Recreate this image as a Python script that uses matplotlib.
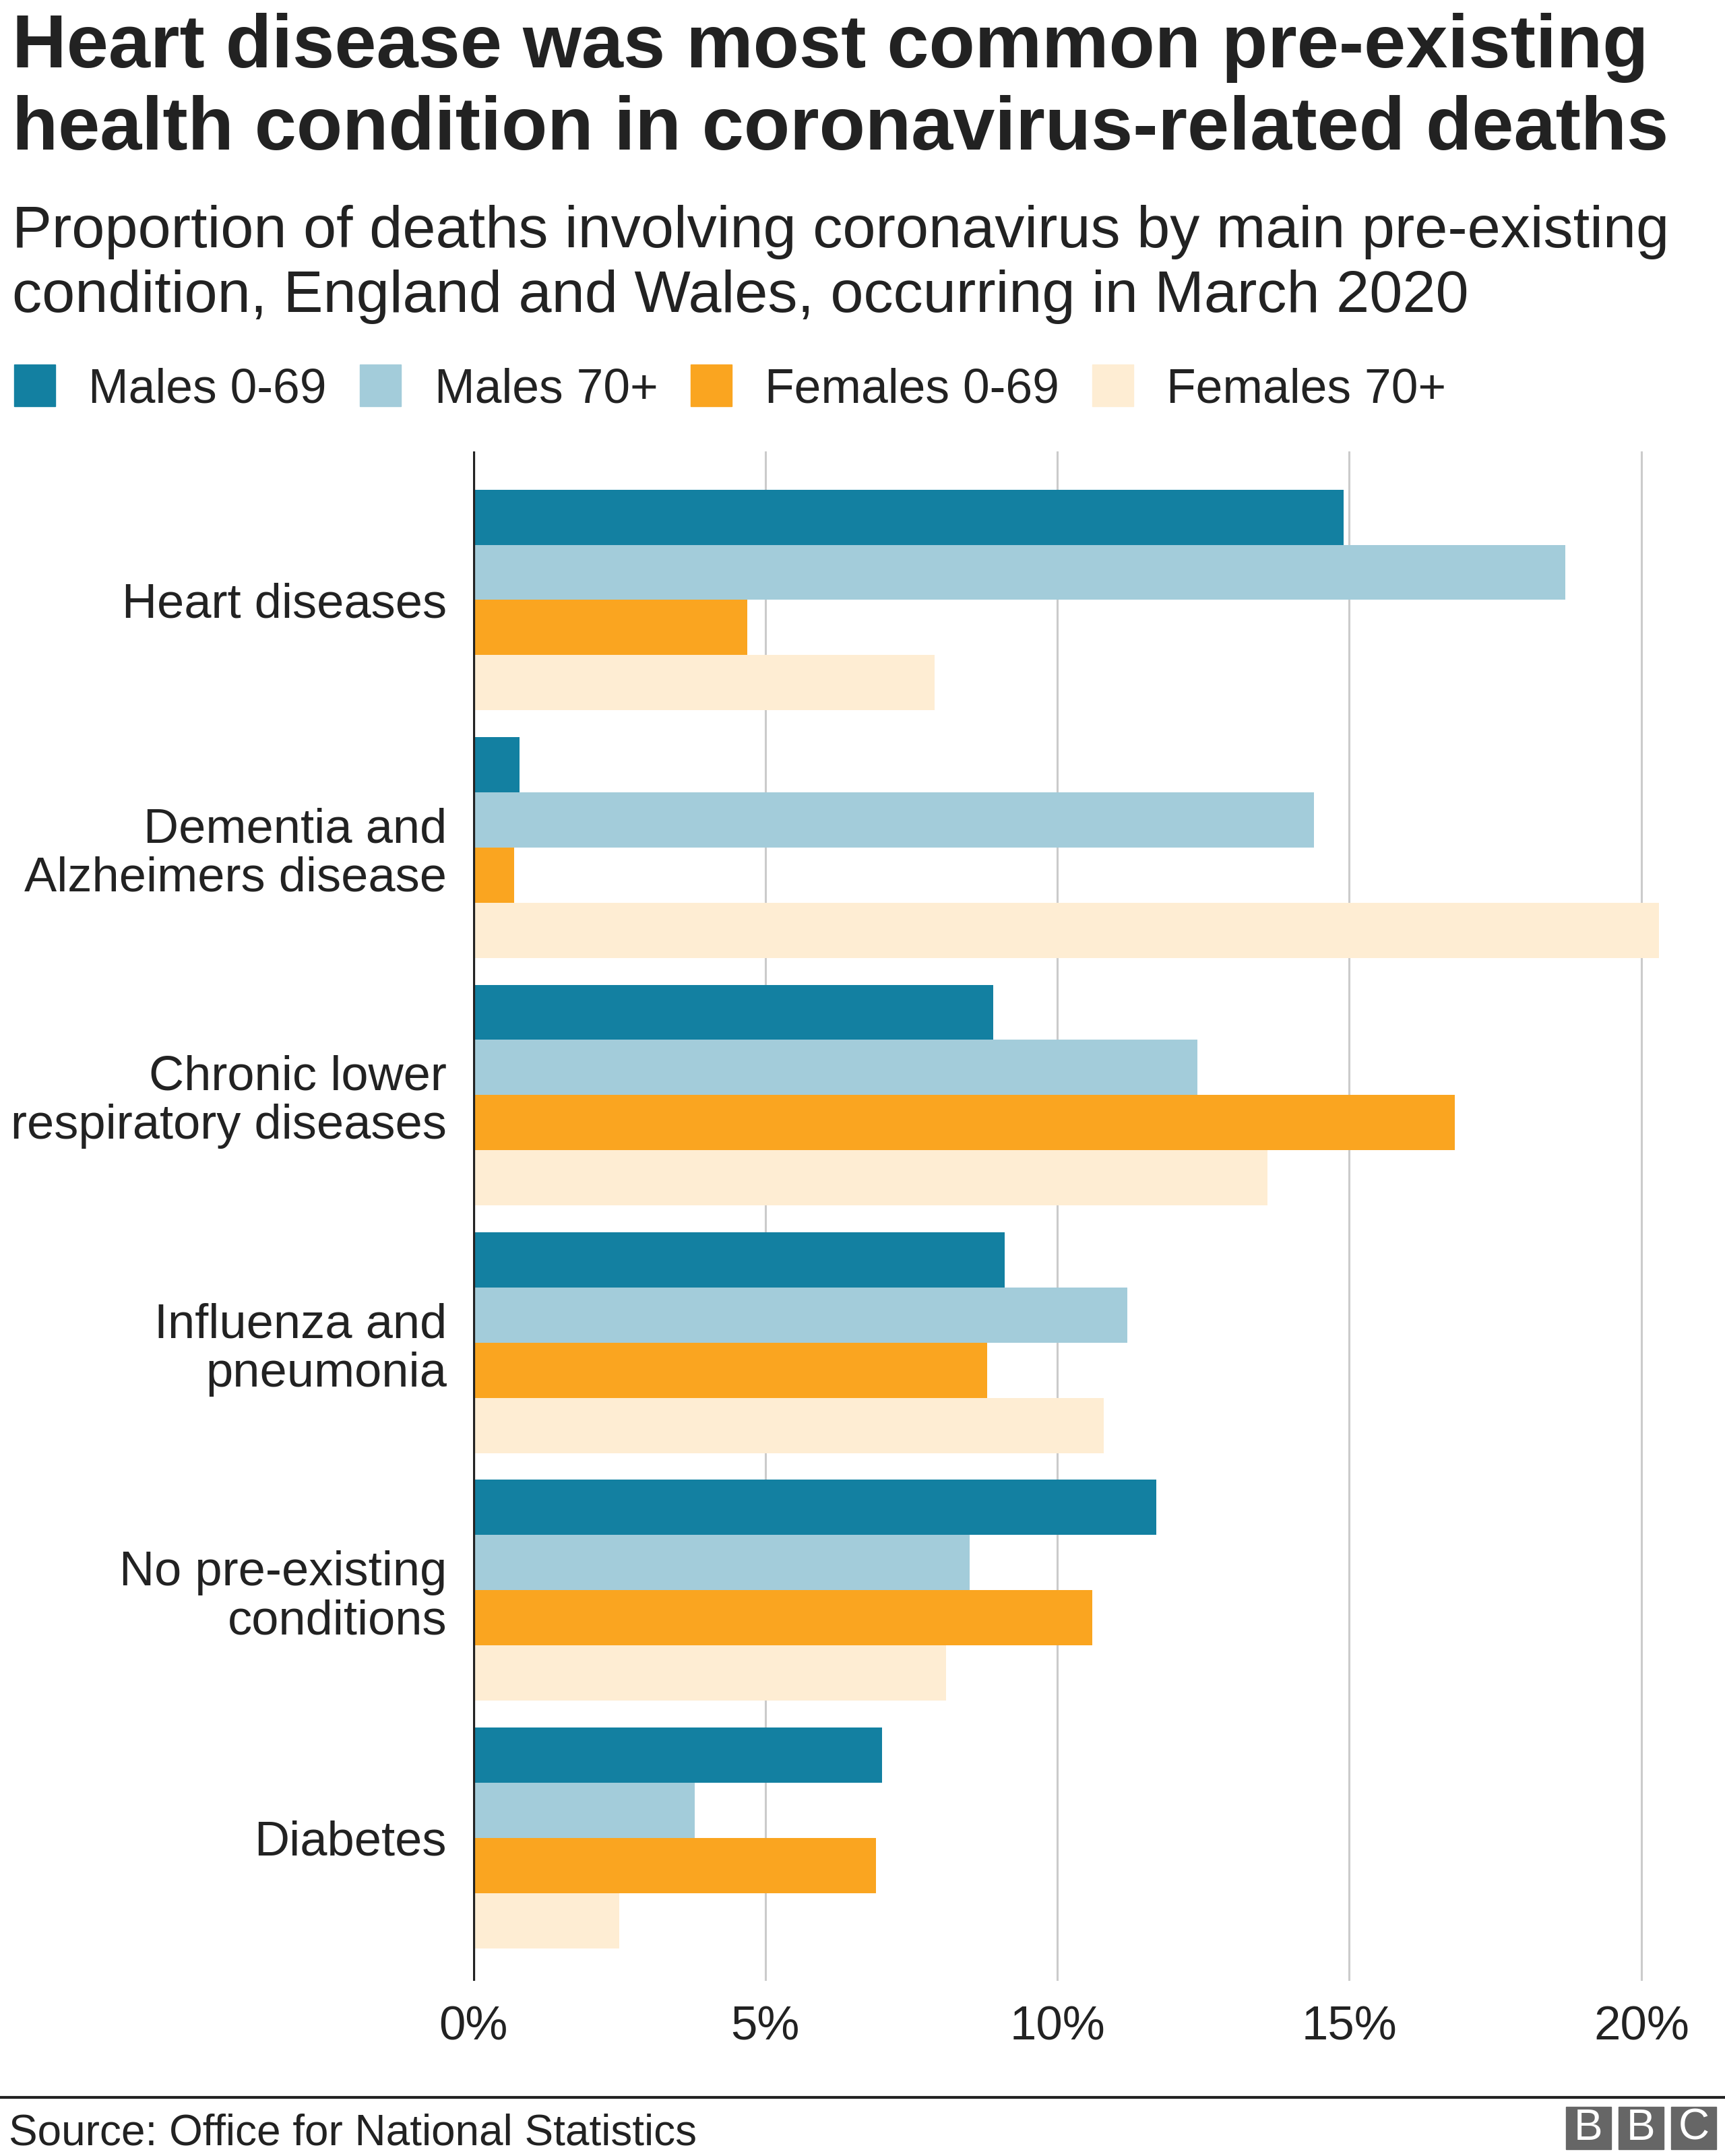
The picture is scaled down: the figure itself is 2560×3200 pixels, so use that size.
import matplotlib
matplotlib.use("Agg")
import matplotlib.pyplot as plt
from matplotlib.patches import Rectangle
import numpy as np

plt.rcParams["font.family"] = ["Liberation Sans", "DejaVu Sans"]

# data (percent of deaths)
conditions = [
    "Heart diseases",
    "Dementia and\nAlzheimers disease",
    "Chronic lower\nrespiratory diseases",
    "Influenza and\npneumonia",
    "No pre-existing\nconditions",
    "Diabetes",
]
groups = ["Males 0-69", "Males 70+", "Females 0-69", "Females 70+"]
males_0_69 = [14.9, 0.8, 8.9, 9.1, 11.7, 7.0]
males_70 = [18.7, 14.4, 12.4, 11.2, 8.5, 3.8]
females_0_69 = [4.7, 0.7, 16.8, 8.8, 10.6, 6.9]
females_70 = [7.9, 20.3, 13.6, 10.8, 8.1, 2.5]
colors = ["#1380a1", "#a3ccda", "#faa520", "#feedd3"]
xticks = [0, 5, 10, 15, 20]

W, H = 2560, 3200
fig = plt.figure(figsize=(W / 100, H / 100), dpi=100)

# axes placed in pixel terms
left, right, top, bottom = 702, 2480, 670, 2940
ax = fig.add_axes([left / W, 1 - bottom / H, (right - left) / W, (bottom - top) / H])

h = 0.2231
y = np.arange(len(conditions))
series = [males_0_69, males_70, females_0_69, females_70]
for j, (vals, c) in enumerate(zip(series, colors)):
    ax.barh(y + (j - 1.5) * h, vals, height=h, color=c, zorder=3)

ax.set_xlim(0, (right - left) / 86.7)
ax.set_ylim(5.577, -0.6)
for s in ax.spines.values():
    s.set_visible(False)
ax.axvline(0, color="#222222", lw=4.5, zorder=4)
for t in xticks[1:]:
    ax.axvline(t, color="#cbcbcb", lw=2.2, zorder=1)

ax.set_xticks(xticks)
ax.set_xticklabels([f"{t}%" for t in xticks], fontsize=51, color="#222222")
ax.set_yticks(y)
ax.set_yticklabels(conditions, fontsize=52, color="#222222", linespacing=1.1)
ax.tick_params(axis="x", length=0, pad=26)
ax.tick_params(axis="y", length=0, pad=28)

# title and subtitle
fig.text(18 / W, 1 - 100 / H, "Heart disease was most common pre-existing",
         fontsize=80.5, fontweight="bold", color="#222222", va="baseline")
fig.text(18 / W, 1 - 222 / H, "health condition in coronavirus-related deaths",
         fontsize=80.5, fontweight="bold", color="#222222", va="baseline")
fig.text(18 / W, 1 - 367 / H, "Proportion of deaths involving coronavirus by main pre-existing",
         fontsize=63.5, color="#222222", va="baseline")
fig.text(18 / W, 1 - 463 / H, "condition, England and Wales, occurring in March 2020",
         fontsize=63.5, color="#222222", va="baseline")

# legend
sq_x = [21, 534, 1025, 1621]
tx_x = [131, 645, 1135, 1731]
for c, lab, sx, tx in zip(colors, groups, sq_x, tx_x):
    fig.patches.append(Rectangle((sx / W, 1 - 603 / H), 61 / W, 62 / H,
                                 transform=fig.transFigure, color=c, figure=fig))
    fig.text(tx / W, 1 - 598 / H, lab, fontsize=51.5, color="#222222", va="baseline")

# footer
fig.add_artist(plt.Line2D([0, 1], [1 - 3113 / H] * 2, transform=fig.transFigure,
                          color="#222222", lw=3))
fig.text(13 / W, 1 - 3183 / H, "Source: Office for National Statistics",
         fontsize=46, color="#222222", va="baseline")
for i, (bx, letter) in enumerate(zip([2324, 2402, 2480], "BBC")):
    fig.patches.append(Rectangle((bx / W, 1 - 3190 / H), 67 / W, 63 / H,
                                 transform=fig.transFigure, color="#666666", figure=fig))
    fig.text((bx + 33.5) / W, 1 - 3158.5 / H, letter, fontsize=46, color="white",
             ha="center", va="center")

fig.savefig("out.png", dpi=100)
